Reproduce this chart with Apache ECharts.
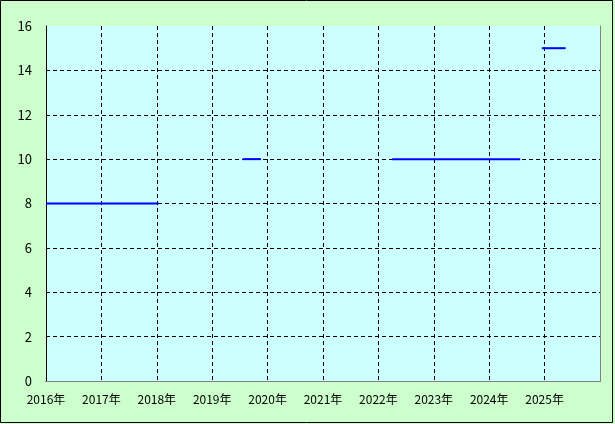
<!DOCTYPE html>
<html><head><meta charset="utf-8">
<script src="https://cdn.jsdelivr.net/npm/echarts@6/dist/echarts.min.js"></script>
<style>html,body{margin:0;padding:0;background:#fff}#c{width:615px;height:424px}</style>
</head><body><div id="c"></div>
<script>
const xTicks = [2016, 2017, 2018, 2019, 2020, 2021, 2022, 2023, 2024, 2025];
const yTicks = [0, 2, 4, 6, 8, 10, 12, 14, 16];
const segStart = [2016.0, 2019.55, 2022.25, 2024.95];
const segEnd = [2018.03, 2019.88, 2024.56, 2025.38];
const segValue = [8, 10, 10, 15];

const chart = echarts.init(document.getElementById('c'), null, {renderer: 'canvas'});
const font = '"MS UI Gothic","Noto Sans CJK JP",sans-serif';
const series = segStart.map((s, i) => ({
  type: 'line', symbol: 'none', silent: true,
  lineStyle: {color: '#0000ff', width: 2},
  data: [[s, segValue[i]], [segEnd[i], segValue[i]]]
}));
const xMin = xTicks[0], xMax = xTicks[xTicks.length - 1] + 1;
const yMin = yTicks[0], yMax = yTicks[yTicks.length - 1];
chart.setOption({
  animation: false,
  backgroundColor: '#ccffcc',
  grid: {left: 46, right: 15, top: 26, bottom: 43, show: true, backgroundColor: '#ccffff', borderColor: '#808080', borderWidth: 0},
  xAxis: [{
    type: 'value', min: xMin, max: xMax, interval: 1,
    axisLine: {show: true, lineStyle: {color: '#000', width: 1}},
    axisTick: {show: false},
    axisLabel: {color: '#000', fontSize: 12, fontFamily: font, margin: 12,
      formatter: v => xTicks.includes(v) ? v + '年' : ''},
    splitLine: {show: true, showMinLine: false, showMaxLine: false, lineStyle: {color: '#000', type: [4, 3], width: 1}}
  }, {
    type: 'value', position: 'top', min: xMin, max: xMax, interval: 1, z: 5,
    axisLine: {show: true, lineStyle: {color: '#808080', width: 1}},
    axisTick: {show: false}, axisLabel: {show: false}, splitLine: {show: false}
  }],
  yAxis: [{
    type: 'value', min: yMin, max: yMax, interval: 2,
    axisLine: {show: true, lineStyle: {color: '#000', width: 1}},
    axisTick: {show: false},
    axisLabel: {color: '#000', fontSize: 13, fontFamily: font, margin: 14},
    splitLine: {show: true, showMinLine: false, showMaxLine: false, lineStyle: {color: '#000', type: [4, 3], width: 1}}
  }, {
    type: 'value', position: 'right', min: yMin, max: yMax, interval: 2, z: 5,
    axisLine: {show: true, lineStyle: {color: '#808080', width: 1}},
    axisTick: {show: false}, axisLabel: {show: false}, splitLine: {show: false}
  }],
  graphic: [{type: 'rect', silent: true, shape: {x: 0.5, y: 0.5, width: 612, height: 422}, style: {fill: null, stroke: '#000', lineWidth: 1}, z: 100}],
  series: series
});
</script></body></html>
